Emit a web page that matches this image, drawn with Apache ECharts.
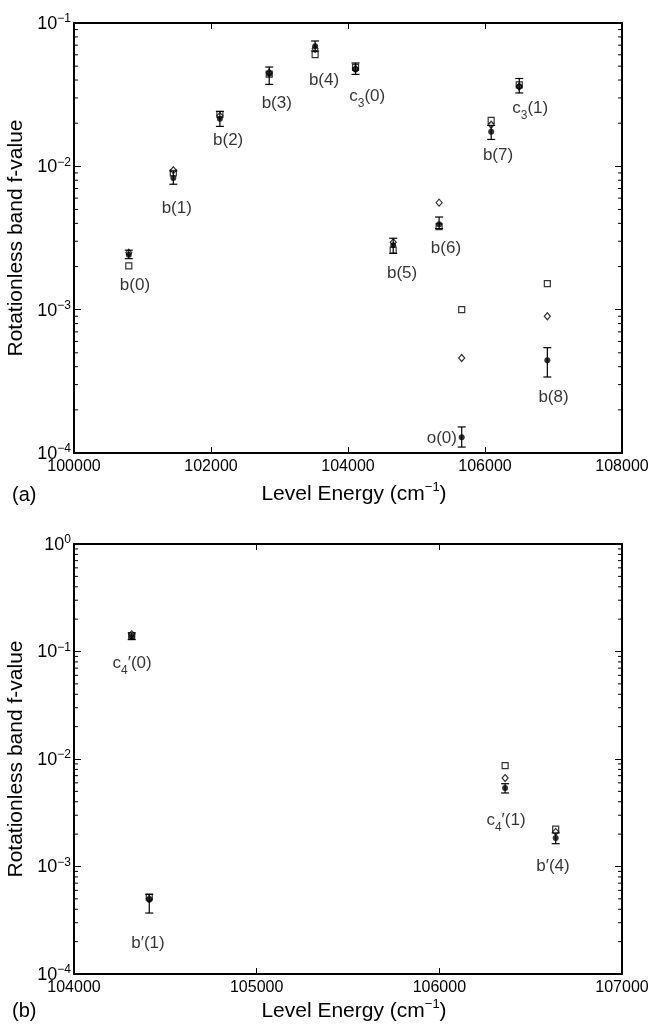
<!DOCTYPE html>
<html>
<head>
<meta charset="utf-8">
<script src="https://cdn.jsdelivr.net/npm/echarts@6/dist/echarts.min.js"></script>
<style>
html,body{margin:0;padding:0;background:#fff}
#chart{width:652px;height:1026px}
</style>
</head>
<body>
<div id="chart"></div>
<script>
// ---- panel (a) ----
var energyA = [100800, 101450, 102130, 102850, 103520, 104110, 104660, 105330, 105660, 106090, 106500, 106910];
var measA   = [2.42e-3, 8.3e-3, 2.15e-2, 4.43e-2, 6.88e-2, 4.73e-2, 2.81e-3, 3.94e-3, 1.29e-4, 1.74e-2, 3.6e-2, 4.43e-4];
var errLoA  = [2.27e-3, 7.5e-3, 1.9e-2, 3.73e-2, 6.38e-2, 4.38e-2, 2.47e-3, 3.68e-3, 1.1e-4, 1.54e-2, 3.25e-2, 3.39e-4];
var errHiA  = [2.6e-3, 9.3e-3, 2.42e-2, 4.93e-2, 7.49e-2, 5.26e-2, 3.15e-3, 4.43e-3, 1.52e-4, 1.93e-2, 4.1e-2, 5.43e-4];
var squareA = [2.02e-3, 9.0e-3, 2.3e-2, 4.4e-2, 6.02e-2, 4.9e-2, 2.6e-3, 3.8e-3, 1.0e-3, 2.09e-2, 3.7e-2, 1.52e-3];
var diamondA = [2.5e-3, 9.4e-3, 2.25e-2, 4.5e-2, 6.6e-2, 4.8e-2, 2.95e-3, 5.58e-3, 4.6e-4, 1.95e-2, 3.6e-2, 9.0e-4];
var labelA  = ['b(0)', 'b(1)', 'b(2)', 'b(3)', 'b(4)', 'c{s|3}(0)', 'b(5)', 'b(6)', 'o(0)', 'b(7)', 'c{s|3}(1)', 'b(8)'];
var labelXA = [100890, 101500, 102250, 102960, 103650, 104280, 104790, 105430, 105370, 106190, 106660, 107000];
var labelYA = [1.48e-3, 5.1e-3, 1.52e-2, 2.75e-2, 3.98e-2, 2.96e-2, 1.79e-3, 2.68e-3, 1.26e-4, 1.19e-2, 2.44e-2, 2.46e-4];

// ---- panel (b) ----
var energyB = [104316, 104412, 106360, 106637];
var measB   = [0.138, 4.9e-4, 5.37e-3, 1.84e-3];
var errLoB  = [0.129, 3.69e-4, 4.83e-3, 1.63e-3];
var errHiB  = [0.149, 5.5e-4, 5.89e-3, 2.05e-3];
var squareB = [0.14, 5.2e-4, 8.67e-3, 2.23e-3];
var diamondB = [0.145, 5.0e-4, 6.65e-3, 2.1e-3];
var labelB  = ['c{s|4}′(0)', 'b′(1)', 'c{s|4}′(1)', 'b′(4)'];
var labelXB = [104318, 104405, 106365, 106622];
var labelYB = [7.38e-2, 1.95e-4, 2.55e-3, 9.95e-4];

var FONT = 'Liberation Sans, Arial, Helvetica, sans-serif';

function pairs(xs, ys) {
    var out = [];
    for (var i = 0; i < xs.length; i++) out.push([xs[i], ys[i]]);
    return out;
}
function errData(xs, lo, hi) {
    var out = [];
    for (var i = 0; i < xs.length; i++) out.push([xs[i], lo[i], hi[i]]);
    return out;
}
// log minor tick positions (2..9 x 10^e), drawn on left and right frame
function minorTicks(xmin, xmax, e0, e1) {
    var out = [];
    for (var e = e0; e < e1; e++) {
        for (var k = 2; k <= 9; k++) out.push([xmin, xmax, k * Math.pow(10, e)]);
    }
    return out;
}

function renderErr(params, api) {
    var x = api.value(0);
    var lo = api.coord([x, api.value(1)]);
    var hi = api.coord([x, api.value(2)]);
    var w = 4;
    var st = {stroke: '#000', lineWidth: 1.2};
    return {type: 'group', children: [
        {type: 'line', shape: {x1: lo[0], y1: lo[1], x2: hi[0], y2: hi[1]}, style: st},
        {type: 'line', shape: {x1: lo[0] - w, y1: lo[1], x2: lo[0] + w, y2: lo[1]}, style: st},
        {type: 'line', shape: {x1: hi[0] - w, y1: hi[1], x2: hi[0] + w, y2: hi[1]}, style: st}
    ]};
}
function renderMinor(params, api) {
    var v = api.value(2);
    var l = api.coord([api.value(0), v]);
    var r = api.coord([api.value(1), v]);
    var st = {stroke: '#000', lineWidth: 1};
    return {type: 'group', children: [
        {type: 'line', shape: {x1: l[0], y1: l[1], x2: l[0] + 4, y2: l[1]}, style: st},
        {type: 'line', shape: {x1: r[0], y1: r[1], x2: r[0] - 4, y2: r[1]}, style: st}
    ]};
}

var supRich = {
    n: {fontSize: 18, fontFamily: FONT, color: '#000', lineHeight: 20, verticalAlign: 'bottom'},
    sup: {fontSize: 12, fontFamily: FONT, color: '#000', lineHeight: 12, verticalAlign: 'top'}
};
// subscript: taller line box, small digit sits on its bottom
var subRich = {
    n: {fontSize: 17, fontFamily: FONT, color: '#000', lineHeight: 17, verticalAlign: 'top'},
    s: {fontSize: 12, fontFamily: FONT, color: '#000', lineHeight: 22, verticalAlign: 'bottom'}
};

function logLabel(v) {
    var e = Math.round(Math.log10(v));
    return '{n|10}{sup|' + (e < 0 ? '−' : '') + Math.abs(e) + '}';
}
function pointLabel(txt) {
    return txt.replace(/(^|\})([^{}]+)(\{|$)/g, function (m, a, b, c) { return a + '{n|' + b + '}' + c; });
}

var frame = {show: true, lineStyle: {color: '#000', width: 2}};

function xAxes(grid, min, max, step, gap) {
    return [{
        type: 'value', gridIndex: grid, min: min, max: max, interval: step,
        axisLine: frame,
        axisTick: {show: true, inside: true, length: 6, lineStyle: {color: '#000', width: 1}},
        axisLabel: {color: '#000', fontSize: 16, fontFamily: FONT, margin: 6,
            formatter: function (v) { return String(v); }},
        splitLine: {show: false},
        name: '{n|Level Energy (cm}{sup|−1}{n|)}',
        nameLocation: 'middle', nameGap: gap,
        nameTextStyle: {padding: [0, 0, 0, 12], rich: {
            n: {fontSize: 21, fontFamily: FONT, color: '#000', lineHeight: 24, verticalAlign: 'bottom'},
            sup: {fontSize: 13, fontFamily: FONT, color: '#000', lineHeight: 13, verticalAlign: 'top'}
        }}
    }, {
        type: 'value', gridIndex: grid, min: min, max: max, interval: step, position: 'top',
        axisLine: frame,
        axisTick: {show: true, inside: true, length: 6, lineStyle: {color: '#000', width: 1}},
        axisLabel: {show: false},
        splitLine: {show: false}
    }];
}
function yAxes(grid, min, max) {
    return [{
        type: 'log', logBase: 10, gridIndex: grid, min: min, max: max,
        axisLine: frame,
        axisTick: {show: true, inside: true, length: 7, lineStyle: {color: '#000', width: 1}},
        axisLabel: {formatter: logLabel, rich: supRich, margin: 3},
        splitLine: {show: false},
        minorTick: {show: false},
        name: 'Rotationless band f-value',
        nameLocation: 'middle', nameRotate: 90, nameGap: 42,
        nameTextStyle: {fontSize: 21, fontFamily: FONT, color: '#000'}
    }, {
        type: 'log', logBase: 10, gridIndex: grid, min: min, max: max, position: 'right',
        axisLine: frame,
        axisTick: {show: true, inside: true, length: 7, lineStyle: {color: '#000', width: 1}},
        axisLabel: {show: false},
        splitLine: {show: false}
    }];
}

function panelSeries(xi, yi, xs, meas, lo, hi, sq, di, lx, ly, lt, xmin, xmax, e0, e1) {
    return [{
        type: 'custom', xAxisIndex: xi, yAxisIndex: yi, renderItem: renderMinor,
        data: minorTicks(xmin, xmax, e0, e1), encode: {x: [0, 1], y: 2}, silent: true, clip: false, z: 1
    }, {
        type: 'scatter', xAxisIndex: xi, yAxisIndex: yi, data: pairs(xs, sq),
        symbol: 'rect', symbolSize: 6,
        itemStyle: {color: '#fff', borderColor: '#000', borderWidth: 1.2}, z: 2
    }, {
        type: 'scatter', xAxisIndex: xi, yAxisIndex: yi, data: pairs(xs, di),
        symbol: 'diamond', symbolSize: [6, 7],
        itemStyle: {color: '#fff', borderColor: '#000', borderWidth: 1.2}, z: 3
    }, {
        type: 'custom', xAxisIndex: xi, yAxisIndex: yi, renderItem: renderErr,
        data: errData(xs, lo, hi), encode: {x: 0, y: [1, 2]}, z: 4
    }, {
        type: 'scatter', xAxisIndex: xi, yAxisIndex: yi, data: pairs(xs, meas),
        symbol: 'circle', symbolSize: 6, itemStyle: {color: '#000'}, z: 5
    }, {
        type: 'scatter', xAxisIndex: xi, yAxisIndex: yi, data: pairs(lx, ly),
        symbolSize: 0, silent: true, z: 6,
        label: {
            show: true, position: 'inside', color: '#000',
            formatter: function (p) { return pointLabel(lt[p.dataIndex]); },
            rich: subRich
        }
    }];
}

var chart = echarts.init(document.getElementById('chart'));
var option = {
    animation: false,
    backgroundColor: '#fff',
    grid: [
        {left: 74, top: 23, width: 548, height: 430, outerBoundsMode: 'none'},
        {left: 74, top: 544, width: 548, height: 430, outerBoundsMode: 'none'}
    ],
    xAxis: xAxes(0, 100000, 108000, 2000, 28).concat(xAxes(1, 104000, 107000, 1000, 24)),
    yAxis: yAxes(0, 1e-4, 1e-1).concat(yAxes(1, 1e-4, 1)),
    graphic: [
        {type: 'text', left: 12, top: 485, style: {text: '(a)', fontSize: 20, fontFamily: FONT, fill: '#000'}},
        {type: 'text', left: 12, top: 1001, style: {text: '(b)', fontSize: 20, fontFamily: FONT, fill: '#000'}}
    ],
    series: panelSeries(0, 0, energyA, measA, errLoA, errHiA, squareA, diamondA, labelXA, labelYA, labelA, 100000, 108000, -4, -1)
        .concat(panelSeries(2, 2, energyB, measB, errLoB, errHiB, squareB, diamondB, labelXB, labelYB, labelB, 104000, 107000, -4, 0))
};
chart.setOption(option);
window.onresize = function () { chart.resize(); };
</script>
</body>
</html>
